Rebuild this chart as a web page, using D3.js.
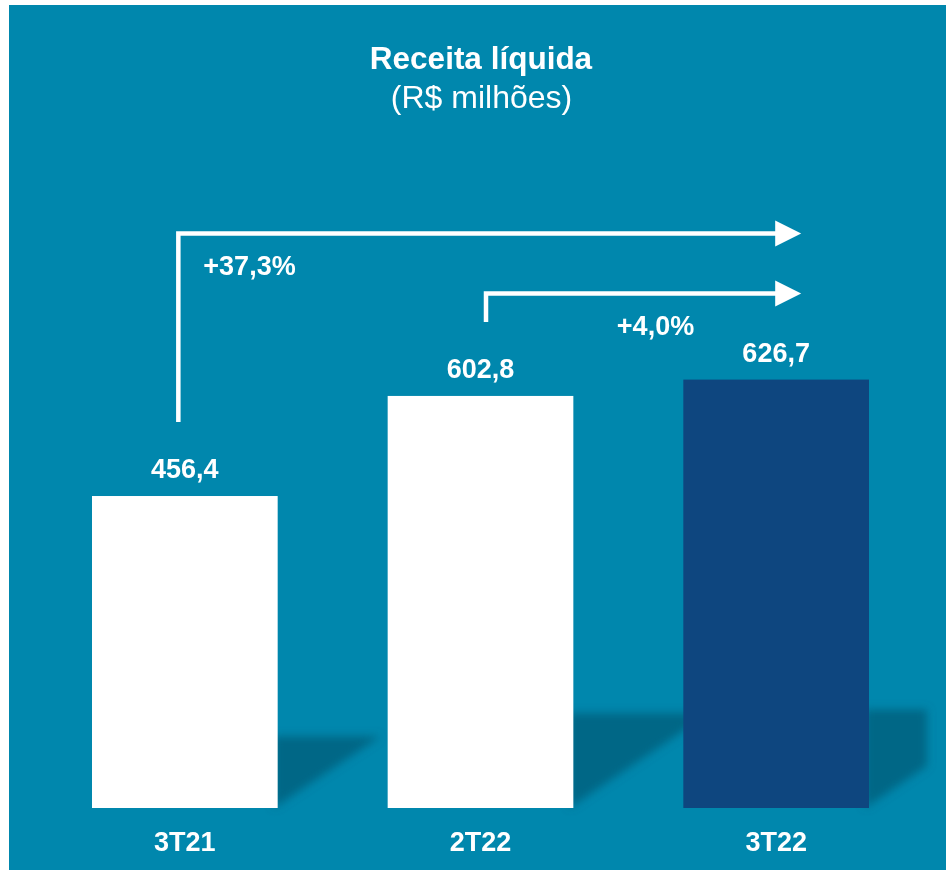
<!DOCTYPE html>
<html>
<head>
<meta charset="utf-8">
<script src="https://cdn.jsdelivr.net/npm/d3@7"></script>
<style>
  html, body { margin: 0; padding: 0; background: #fff; }
  svg { display: block; font-family: "Liberation Sans", Arial, sans-serif; }
</style>
</head>
<body>
<svg width="946" height="870"></svg>
<script>
const categories = ["3T21", "2T22", "3T22"];
const values = [456.4, 602.8, 626.7];
const valueLabels = ["456,4", "602,8", "626,7"];
const barColors = ["#ffffff", "#ffffff", "#0e467f"];
const growth = [
  { from: "3T21", to: "3T22", label: "+37,3%" },
  { from: "2T22", to: "3T22", label: "+4,0%" }
];

const BG = "#0087ad";
const SHADOW_RISE = 0.23;   // shadow height as share of bar height
const SHADOW_RUN = 0.33;    // shadow reach as share of bar height

var svg = d3.select("svg"),
    width = +svg.attr("width"),
    height = +svg.attr("height");

svg.append("rect")
  .attr("x", 9).attr("y", 5)
  .attr("width", width - 9).attr("height", height - 5)
  .attr("fill", BG);

var x = d3.scaleBand()
  .domain(categories)
  .range([92, 869])
  .paddingInner(0.372)
  .paddingOuter(0);

var y = d3.scaleLinear()
  .domain([0, 700])
  .range([808, 329.5]);

var data = categories.map((c, i) => ({ cat: c, value: values[i], label: valueLabels[i], color: barColors[i] }));

// soft shadows cast to the right of each bar
var defs = svg.append("defs");
defs.append("filter").attr("id", "blur")
  .attr("x", "-20%").attr("y", "-20%").attr("width", "140%").attr("height", "140%")
  .append("feGaussianBlur").attr("stdDeviation", 4.5);
defs.append("clipPath").attr("id", "plotclip")
  .append("rect").attr("x", 0).attr("y", 0).attr("width", 927).attr("height", y(0));

var shadowOuter = svg.append("g").attr("filter", "url(#blur)");
var shadowInner = shadowOuter.append("g").attr("clip-path", "url(#plotclip)");

shadowInner.selectAll("path")
  .data(data)
  .enter().append("path")
  .attr("fill", "#00627f")
  .attr("opacity", 0.85)
  .attr("d", d => {
    var h = y(0) - y(d.value);
    var x1 = x(d.cat) + x.bandwidth();
    var base = y(0);
    var top = base - h * SHADOW_RISE;
    var reach = x1 + h * SHADOW_RUN;
    return "M" + (x1 - 4) + "," + base +
           "L" + reach + "," + top +
           "L" + (x1 - 4) + "," + top + "Z";
  });

// bars
svg.append("g")
  .selectAll("rect")
  .data(data)
  .enter().append("rect")
  .attr("x", d => x(d.cat))
  .attr("y", d => y(d.value))
  .attr("width", x.bandwidth())
  .attr("height", d => y(0) - y(d.value))
  .attr("fill", d => d.color);

// value labels
svg.append("g")
  .selectAll("text")
  .data(data)
  .enter().append("text")
  .attr("x", d => x(d.cat) + x.bandwidth() / 2)
  .attr("y", d => y(d.value) - 18)
  .attr("text-anchor", "middle")
  .attr("fill", "#fff")
  .attr("font-weight", "bold")
  .attr("font-size", 27)
  .text(d => d.label);

// category axis labels
svg.append("g")
  .selectAll("text")
  .data(data)
  .enter().append("text")
  .attr("x", d => x(d.cat) + x.bandwidth() / 2)
  .attr("y", y(0) + 43)
  .attr("text-anchor", "middle")
  .attr("fill", "#fff")
  .attr("font-weight", "bold")
  .attr("font-size", 27)
  .text(d => d.cat);

// growth arrows
var arrowLayout = [
  { lineY: 233.5, dx: -6.5, labelX: 249.5, labelY: 275 },
  { lineY: 293.5, dx: 5.5, labelX: 655.5, labelY: 335 }
];
var byCat = {};
data.forEach(d => byCat[d.cat] = d);

var arrows = svg.append("g");
growth.forEach((g, i) => {
  var L = arrowLayout[i];
  var sx = x(g.from) + x.bandwidth() / 2 + L.dx;
  var bottom = y(byCat[g.from].value) - 74;
  var ex = x(g.to) + x.bandwidth() / 2;
  arrows.append("path")
    .attr("d", "M" + sx + "," + bottom + "V" + L.lineY + "H" + (ex + 1))
    .attr("fill", "none")
    .attr("stroke", "#fff")
    .attr("stroke-width", 4.5);
  arrows.append("path")
    .attr("d", "M" + (ex - 1) + "," + (L.lineY - 13) +
               "L" + (ex + 25) + "," + L.lineY +
               "L" + (ex - 1) + "," + (L.lineY + 13) + "Z")
    .attr("fill", "#fff");
  arrows.append("text")
    .attr("x", L.labelX)
    .attr("y", L.labelY)
    .attr("text-anchor", "middle")
    .attr("fill", "#fff")
    .attr("font-weight", "bold")
    .attr("font-size", 27)
    .text(g.label);
});

// title
svg.append("text")
  .attr("x", 481).attr("y", 69)
  .attr("text-anchor", "middle")
  .attr("fill", "#fff")
  .attr("font-weight", "bold")
  .attr("font-size", 31.5)
  .text("Receita líquida");
svg.append("text")
  .attr("x", 481.5).attr("y", 108)
  .attr("text-anchor", "middle")
  .attr("fill", "#fff")
  .attr("font-size", 32)
  .text("(R$ milhões)");
</script>
</body>
</html>
